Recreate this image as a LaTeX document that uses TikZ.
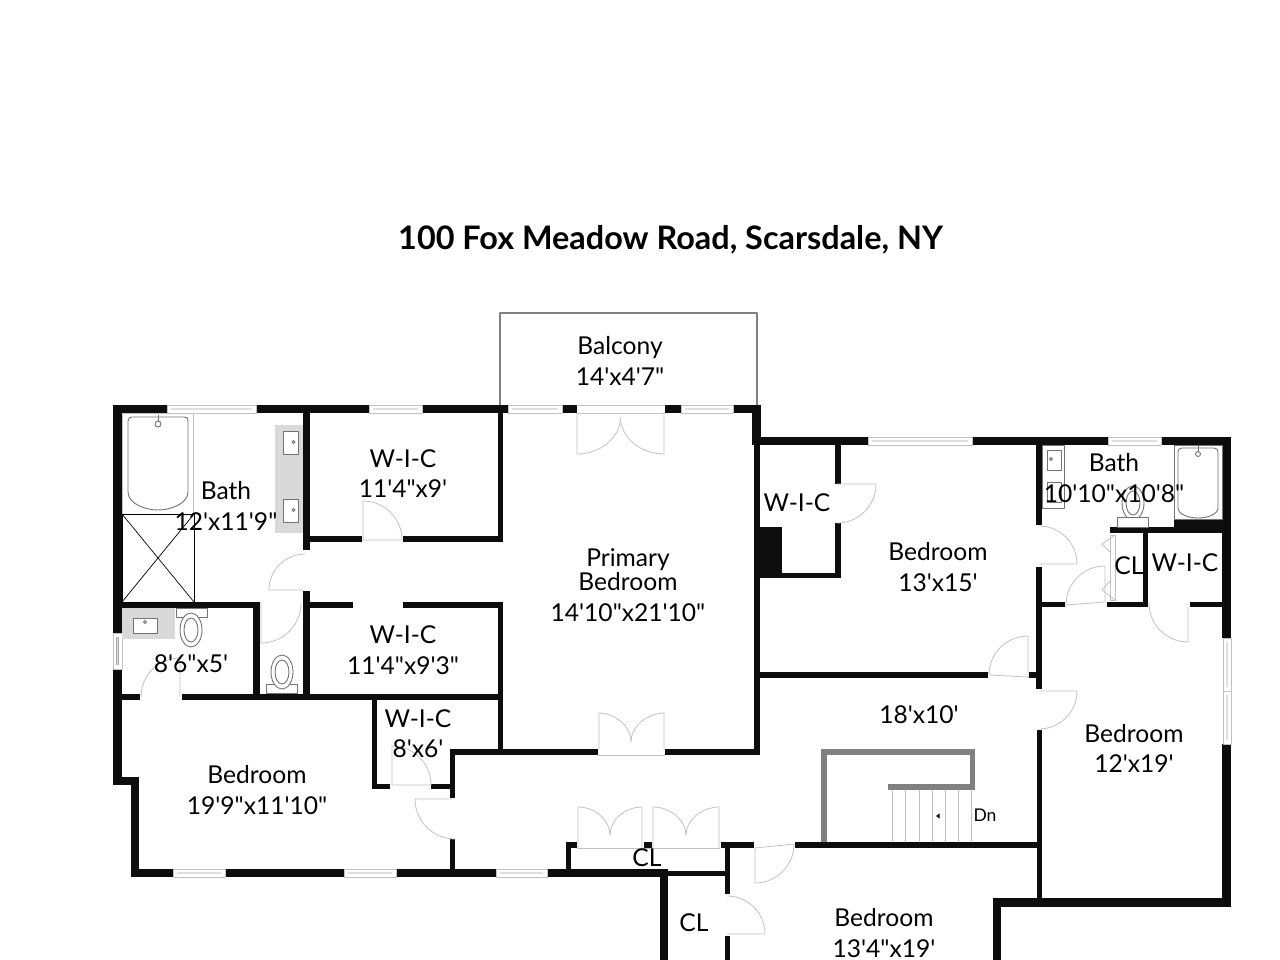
\documentclass[tikz,border=0pt]{standalone}
\usepackage{fontspec}
\newfontfamily\planfont{Lato}
\definecolor{stairgray}{rgb}{0.5,0.5,0.5}
\definecolor{doorgray}{rgb}{0.76,0.76,0.76}
\definecolor{fixgray}{rgb}{0.45,0.45,0.45}
\definecolor{vanitygray}{rgb}{0.85,0.85,0.85}
\definecolor{windowgray}{rgb}{0.88,0.88,0.88}
\tikzset{
  wall/.style={fill=black!95},
  stairwall/.style={fill=stairgray},
  door/.style={draw=doorgray,line width=0.8pt},
  fixture/.style={draw=fixgray,line width=0.9pt,fill=white},
  window/.style={draw=doorgray,line width=0.7pt,fill=white},
  winline/.style={draw=stairgray!70,line width=0.5pt,double=windowgray,double distance=1.8pt,line cap=butt},
  room/.style={align=center,font=\planfont\fontsize{24.6}{30.5}\selectfont,inner sep=0pt},
}
\begin{document}
\begin{tikzpicture}[line cap=round,line join=round,x=1pt,y=-1pt]
\useasboundingbox (0,0) rectangle (1280,960);
% balcony
\draw [draw=stairgray,line width=2.6pt] (500,406)-- (500,313)-- (757,313)-- (757,406);
% outer walls, left and top
\fill [wall] (113,405) rectangle (167,413);
\fill [wall] (256,405) rectangle (369,413);
\fill [wall] (422,405) rectangle (508,413);
\fill [wall] (562,405) rectangle (577,413);
\fill [wall] (665,405) rectangle (681,413);
\fill [wall] (733,405) rectangle (761,413);
\fill [wall] (752,405) rectangle (761,445);
\fill [wall] (752,437) rectangle (868,445);
\fill [wall] (972,437) rectangle (1108,445);
\fill [wall] (1161,437) rectangle (1231,445);
\fill [wall] (1222,437) rectangle (1231,638);
\fill [wall] (1222,744) rectangle (1231,907);
\fill [wall] (993,898) rectangle (1231,907);
\fill [wall] (993,898) rectangle (1001,960);
\fill [wall] (113,405) rectangle (122,633);
\fill [wall] (113,669) rectangle (122,785);
\fill [wall] (113,777) rectangle (139,785);
\fill [wall] (131,777) rectangle (139,877);
\fill [wall] (131,869) rectangle (173,877);
\fill [wall] (225,869) rectangle (344,877);
\fill [wall] (396,869) rectangle (496,877);
\fill [wall] (547,869) rectangle (668,877);
% inner walls, left block
\fill [wall] (303,413) rectangle (310,550);
\fill [wall] (303,591) rectangle (310,700);
\fill [wall] (310,536) rectangle (362,542);
\fill [wall] (403,536) rectangle (503,542);
\fill [wall] (498,413) rectangle (503,542);
\fill [wall] (303,602) rectangle (353,608);
\fill [wall] (403,602) rectangle (503,608);
\fill [wall] (498,602) rectangle (503,755);
\fill [wall] (122,602) rectangle (260,608);
\fill [wall] (253,602) rectangle (260,700);
\fill [wall] (122,694) rectangle (140,700);
\fill [wall] (182,694) rectangle (503,700);
\fill [wall] (372,697) rectangle (377,789);
\fill [wall] (372,784) rectangle (390,789);
\fill [wall] (431,784) rectangle (455,789);
\fill [wall] (450,749) rectangle (598,755);
\fill [wall] (450,749) rectangle (455,798);
\fill [wall] (450,839) rectangle (455,877);
% primary bedroom, right side
\fill [wall] (665,749) rectangle (760,755);
\fill [wall] (754,445) rectangle (760,755);
\fill [wall] (835,445) rectangle (841,484);
\fill [wall] (835,523) rectangle (841,578);
\fill [wall] (760,573) rectangle (841,578);
\fill [wall] (758,527) rectangle (782,578);
% hall and closets
\fill [wall] (754,672) rectangle (988,678);
\fill [wall] (1029,672) rectangle (1037,678);
\fill [wall] (795,842) rectangle (1037,848);
\fill [wall] (721,842) rectangle (754,848);
\fill [wall] (644,842) rectangle (652,848);
\fill [wall] (566,842) rectangle (577,848);
\fill [wall] (566,842) rectangle (571,873);
\fill [wall] (668,871) rectangle (730,876);
\fill [wall] (725,842) rectangle (730,894);
\fill [wall] (725,936) rectangle (730,960);
\fill [wall] (660,873) rectangle (668,960);
% right block
\fill [wall] (1036,437) rectangle (1042,525);
\fill [wall] (1036,567) rectangle (1042,689);
\fill [wall] (1037,730) rectangle (1042,905);
\fill [wall] (1042,602) rectangle (1065,607);
\fill [wall] (1107,602) rectangle (1148,607);
\fill [wall] (1190,602) rectangle (1222,607);
\fill [wall] (1143,530) rectangle (1148,607);
\fill [wall] (1110,527) rectangle (1222,533);
\fill [wall] (1174,520) rectangle (1222,533);
% stair
\fill [stairwall] (821,749) rectangle (975,755);
\fill [stairwall] (821,749) rectangle (827,842);
\fill [stairwall] (970,749) rectangle (975,790);
\fill [stairwall] (888,784) rectangle (975,790);
\draw [door] (892,790)-- (892,842);
\draw [door] (905,790)-- (905,842);
\draw [door] (919,790)-- (919,842);
\draw [door] (932,790)-- (932,842);
\draw [door] (945,790)-- (945,842);
\draw [door] (958,790)-- (958,842);
\draw [door] (971,790)-- (971,842);
\fill (936,816)-- (939.5,813.5)-- (939.5,818.5)-- cycle;
% windows
\draw [window] (167,405) rectangle (256,413);
\draw [winline] (171,409)-- (252,409);
\draw [window] (369,405) rectangle (422,413);
\draw [winline] (373,409)-- (418,409);
\draw [window] (508,405) rectangle (562,413);
\draw [winline] (512,409)-- (558,409);
\draw [window] (681,405) rectangle (733,413);
\draw [winline] (685,409)-- (729,409);
\draw [window] (868,437) rectangle (972,445);
\draw [winline] (872,441)-- (968,441);
\draw [window] (1108,437) rectangle (1161,445);
\draw [winline] (1112,441)-- (1157,441);
\draw [window] (1223,638) rectangle (1231,691);
\draw [winline] (1227,642)-- (1227,687);
\draw [window] (1223,691) rectangle (1231,744);
\draw [winline] (1227,695)-- (1227,740);
\draw [window] (113,633) rectangle (122,669);
\draw [winline] (117.5,637)-- (117.5,665);
\draw [window] (173,869) rectangle (225,877);
\draw [winline] (177,873)-- (221,873);
\draw [window] (344,869) rectangle (396,877);
\draw [winline] (348,873)-- (392,873);
\draw [window] (496,869) rectangle (547,877);
\draw [winline] (500,873)-- (543,873);
% doors
\draw [door] (577,405)-- (665,405);
\draw [door] (577,413)-- (665,413);
\draw [door] (577,413)-- (577,454) .. controls (600,454) and (620,438) .. (620.5,418);
\draw [door] (664,413)-- (664,454) .. controls (641,454) and (621,438) .. (620.5,418);
\draw [door] (363,541)-- (363,501) arc (-90:0:39)-- (363,540);
\draw [door] (303,590)-- (269,590) arc (180:270:36);
\draw [door] (261,602)-- (261,643) arc (90:0:40);
\draw [door] (180,697)-- (180,658) arc (-90:-180:39);
\draw [door] (392,785)-- (392,746) arc (-90:0:39)-- (392,785);
\draw [door] (452,799)-- (415,799) arc (180:90:40);
\draw [door] (599,749)-- (599,713) .. controls (615,713) and (631,726) .. (631,742);
\draw [door] (664,749)-- (664,713) .. controls (648,713) and (631,726) .. (631,742);
\draw [door] (598,755)-- (665,755);
\draw [door] (578,848)-- (578,807) .. controls (595,807) and (610,820) .. (610,835);
\draw [door] (642,848)-- (642,807) .. controls (625,807) and (610,820) .. (610,835);
\draw [door] (653,848)-- (653,807) .. controls (670,807) and (686,820) .. (686,835);
\draw [door] (719,848)-- (719,807) .. controls (702,807) and (686,820) .. (686,835);
\draw [door] (577,848)-- (720,848);
\draw [door] (755,848)-- (755,883) arc (90:0:39)-- (755,848);
\draw [door] (727,934)-- (765,934) arc (0:-90:38);
\draw [door] (837,484)-- (876,484) arc (0:90:39);
\draw [door] (1040,564)-- (1077,564) arc (0:-90:38);
\draw [door] (1105,602)-- (1105,566) arc (-90:-180:39)-- (1105,602);
\draw [door] (1188,607)-- (1188,642) arc (90:180:39);
\draw [door] (1028,678)-- (1028,636) arc (-90:-180:39)-- (1028,677);
\draw [door] (1040,691)-- (1077,691) arc (0:90:38);
\draw [door] (1110,535)-- (1115,535)-- (1115,600)-- (1110,600)-- cycle;
\draw [door] (1115,535)-- (1102,544)-- (1111,553);
\draw [door] (1115,600)-- (1102,590)-- (1111,580);
% left bath fixtures
\draw [draw=doorgray,line width=1pt] (122,413) rectangle (193,514);
\draw [fixture] (132,417)-- (184,417) .. controls (187,417) and (188,418) .. (188,421)-- (188,492) .. controls (188,504) and (170,510) .. (158,510) .. controls (146,510) and (128,504) .. (128,492)-- (128,421) .. controls (128,418) and (130,417) .. (132,417)-- cycle;
\draw [fixture] (158,424) circle (3pt);
\draw [fixture] (158,415)-- (158,421);
\draw [black,line width=0.9pt] (122,514) rectangle (194,602);
\draw [black,line width=0.7pt] (122,514)-- (194,602);
\draw [black,line width=0.7pt] (194,514)-- (122,602);
\fill [vanitygray] (275,425) rectangle (303,533);
\draw [fixture] (283,431) rectangle (298,454);
\draw [fixture] (283,499) rectangle (298,522);
\draw [fixture] (293.5,442) circle (1.5pt);
\draw [fixture] (293.5,510) circle (1.5pt);
\fill [vanitygray] (122,608) rectangle (175,639);
\draw [fixture] (133,618) rectangle (157,633);
\draw [fixture] (145,622) circle (1.5pt);
\draw [fixture] (176,608) rectangle (207,617);
\draw [fixture] (191,630) ellipse (11pt and 17pt);
\draw [fixture] (191,630) ellipse (7pt and 12pt);
\draw [fixture] (266,684) rectangle (297,693);
\draw [fixture] (282,672) ellipse (11pt and 17pt);
\draw [fixture] (282,672) ellipse (7pt and 12pt);
% right bath fixtures
\draw [fixture] (1042,445) rectangle (1064,508);
\draw [fixture] (1047,450) rectangle (1061,470);
\draw [fixture] (1051,459) circle (1.5pt);
\draw [fixture] (1047,482) rectangle (1061,502);
\draw [fixture] (1174,445) rectangle (1222,519);
\draw [fixture] (1182,448)-- (1214,448) .. controls (1217,448) and (1218,450) .. (1218,452)-- (1218,508) .. controls (1218,514) and (1208,518) .. (1198,518) .. controls (1188,518) and (1178,514) .. (1178,508)-- (1178,452) .. controls (1178,450) and (1179,448) .. (1182,448)-- cycle;
\draw [fixture] (1198,454) circle (2.5pt);
\draw [fixture] (1198,446)-- (1198,452);
\draw [fixture] (1133,503) ellipse (11pt and 17pt);
\draw [fixture] (1133,503) ellipse (7pt and 12pt);
\draw [fixture] (1117,517) rectangle (1148,527);
% labels
\node (title) at (670.5,240) {\planfont\bfseries\fontsize{32.4}{36}\selectfont 100 Fox Meadow Road, Scarsdale, NY};
\node [room] (balcony) at (620,361) {Balcony\\14'x4'7"};
\node [room] (bathleft) at (226,506) {Bath\\12'x11'9"};
\node [room] (wicone) at (403,473.5) {W-I-C\\11'4"x9'};
\node [room] (wictwo) at (403,650) {W-I-C\\11'4"x9'3"};
\node [room] (powder) at (191,664) {8'6"x5'};
\node [room] (primary) at (628,585) {Primary\\[-6.5pt]Bedroom\\14'10"x21'10"};
\node [room] (wicthree) at (797,503) {W-I-C};
\node [room] (bedone) at (938,567) {Bedroom\\13'x15'};
\node [room] (bathright) at (1114,478) {Bath\\10'10"x10'8"};
\node [room] (clone) at (1129,566) {CL};
\node [room] (wicfour) at (1185,563) {W-I-C};
\node [room] (wicfive) at (418,733.5) {W-I-C\\8'x6'};
\node [room] (bedtwo) at (257,790) {Bedroom\\19'9"x11'10"};
\node [room] (hall) at (919,715) {18'x10'};
\node [room] (bedthree) at (1134,748.5) {Bedroom\\12'x19'};
\node [room] (bedfour) at (884,933) {Bedroom\\13'4"x19'};
\node [room] (cltwo) at (647,858) {CL};
\node [room] (clthree) at (694,923) {CL};
\node [font=\planfont\fontsize{17.5}{20}\selectfont,inner sep=0pt] (down) at (985,815) {Dn};
\end{tikzpicture}
\end{document}
